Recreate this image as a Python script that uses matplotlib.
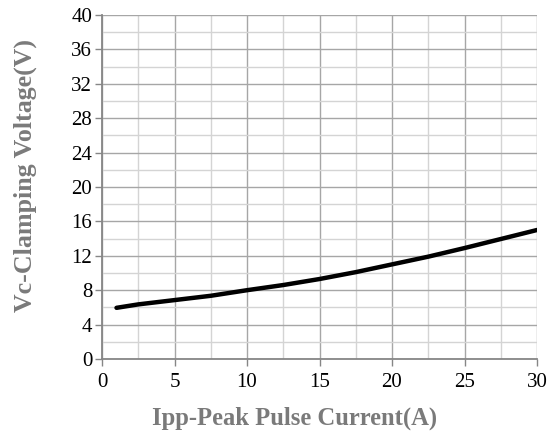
import matplotlib.pyplot as plt
from matplotlib.ticker import MultipleLocator

# values
current = [1, 2.5, 5, 7.5, 10, 12.5, 15, 17.5, 20, 22.5, 25, 27.5, 30]
voltage = [5.95, 6.35, 6.85, 7.35, 8.0, 8.6, 9.3, 10.1, 11.0, 11.9, 12.9, 13.95, 15.0]

x_ticks = [0, 5, 10, 15, 20, 25, 30]
y_ticks = [0, 4, 8, 12, 16, 20, 24, 28, 32, 36, 40]

plt.rcParams['font.family'] = ['Liberation Serif', 'DejaVu Serif']

fig = plt.figure(figsize=(5.58, 4.40), dpi=100)
ax = fig.add_axes([102 / 558, 1 - 359 / 440, 435 / 558, 344 / 440])

ax.plot(current, voltage, color='black', linewidth=3.2, solid_capstyle='round', zorder=3)

ax.set_xlim(0, 30)
ax.set_ylim(0, 40)
ax.set_xticks(x_ticks)
ax.set_yticks(y_ticks)
ax.xaxis.set_minor_locator(MultipleLocator(2.5))
ax.yaxis.set_minor_locator(MultipleLocator(2))

ax.grid(which='major', color='#a6a6a6', linewidth=1.0)
ax.grid(which='minor', color='#d4d4d4', linewidth=1.0)
ax.set_axisbelow(True)

for side in ['top', 'right']:
    ax.spines[side].set_visible(False)
for side in ['left', 'bottom']:
    ax.spines[side].set_color('#868686')
    ax.spines[side].set_linewidth(1.3)

ax.tick_params(which='major', direction='out', length=5, width=1.0, color='#868686',
               labelsize=15, labelcolor='black')
ax.tick_params(which='minor', length=0)
ax.tick_params(axis='x', pad=5)
ax.tick_params(axis='y', pad=2)

ax.set_xlabel('Ipp-Peak Pulse Current(A)', fontsize=17.7, fontweight='bold',
              color='#7a7a7a', va='center')
ax.xaxis.set_label_coords((294.5 - 102) / 435, (359 - 418) / 344)
ax.set_ylabel('Vc-Clamping Voltage(V)', fontsize=18.7, fontweight='bold',
              color='#7a7a7a', va='center')
ax.yaxis.set_label_coords((25 - 102) / 435, (359 - 175.5) / 344)

fig.savefig('out.png', dpi=100)
